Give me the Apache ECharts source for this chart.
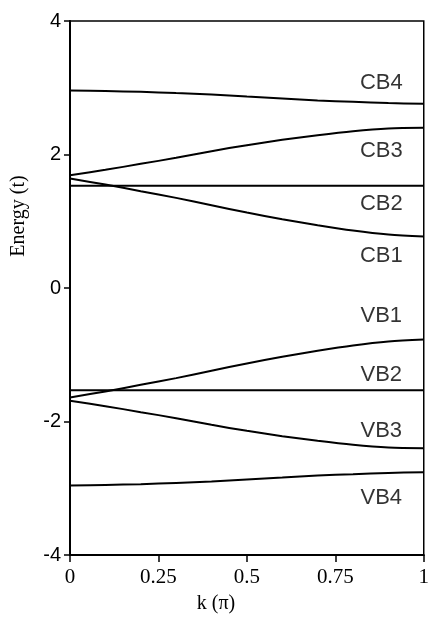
<!DOCTYPE html>
<html>
<head>
<meta charset="utf-8">
<script src="https://cdn.jsdelivr.net/npm/echarts@6/dist/echarts.min.js"></script>
<style>
  html, body { margin: 0; padding: 0; background: #fff; }
  #chart { width: 432px; height: 627px; }
</style>
</head>
<body>
<div id="chart"></div>
<script>
// wave vector k (units of pi)
const kValues = [0, 0.1, 0.2, 0.3, 0.4, 0.5, 0.6, 0.7, 0.8, 0.9, 1.0];

// conduction bands (energy in t)
const cb4 = [2.96, 2.95, 2.94, 2.92, 2.90, 2.87, 2.84, 2.81, 2.79, 2.77, 2.76];
const cb3 = [1.69, 1.77, 1.86, 1.95, 2.05, 2.14, 2.22, 2.29, 2.35, 2.39, 2.40];
const cb2 = [1.53, 1.53, 1.53, 1.53, 1.53, 1.53, 1.53, 1.53, 1.53, 1.53, 1.53];
const cb1 = [1.64, 1.55, 1.45, 1.35, 1.24, 1.13, 1.03, 0.94, 0.86, 0.80, 0.77];

// valence bands
const vb1 = [-1.64, -1.55, -1.45, -1.35, -1.24, -1.13, -1.03, -0.94, -0.86, -0.80, -0.77];
const vb2 = [-1.53, -1.53, -1.53, -1.53, -1.53, -1.53, -1.53, -1.53, -1.53, -1.53, -1.53];
const vb3 = [-1.69, -1.77, -1.86, -1.95, -2.05, -2.14, -2.22, -2.29, -2.35, -2.39, -2.40];
const vb4 = [-2.96, -2.95, -2.94, -2.92, -2.90, -2.87, -2.84, -2.81, -2.79, -2.77, -2.76];

const yTicks = [-4, -2, 0, 2, 4];
const xTicks = [0, 0.25, 0.5, 0.75, 1];

// band names and where their labels sit (k, E)
const bandNames = ['CB4', 'CB3', 'CB2', 'CB1', 'VB1', 'VB2', 'VB3', 'VB4'];
const labelK = [0.88, 0.88, 0.88, 0.88, 0.88, 0.88, 0.88, 0.88];
const labelE = [3.07, 2.05, 1.26, 0.48, -0.42, -1.30, -2.14, -3.15];

const bands = [cb4, cb3, cb2, cb1, vb1, vb2, vb3, vb4];

const chart = echarts.init(document.getElementById('chart'));

const lineSeries = bands.map(function (vals, i) {
    return {
        name: bandNames[i],
        type: 'line',
        smooth: 0.3,
        symbol: 'none',
        lineStyle: { color: '#000', width: 2 },
        data: kValues.map(function (k, j) { return [k, vals[j]]; }),
        z: 3
    };
});

const labelSeries = {
    type: 'scatter',
    symbolSize: 0,
    silent: true,
    data: bandNames.map(function (n, i) { return { value: [labelK[i], labelE[i]], name: n }; }),
    label: {
        show: true,
        position: 'inside',
        formatter: '{b}',
        color: '#000',
        fontFamily: 'Liberation Sans, Arial, sans-serif',
        fontSize: 22
    }
};

const option = {
    animation: false,
    backgroundColor: '#fff',
    grid: {
        left: 70, right: 4, top: 21, bottom: 72,
        show: true,
        borderColor: '#000',
        borderWidth: 1.5
    },
    xAxis: {
        type: 'value',
        min: 0, max: 1, interval: 0.25,
        splitLine: { show: false },
        axisLine: { onZero: false, lineStyle: { color: '#000', width: 2 } },
        axisTick: { show: true, length: 7, lineStyle: { color: '#000', width: 1.5 } },
        axisLabel: {
            color: '#000',
            fontFamily: 'Liberation Serif, Times New Roman, serif',
            fontSize: 21,
            margin: 12,
            formatter: function (v) { return xTicks.indexOf(v) >= 0 ? String(v) : ''; }
        }
    },
    yAxis: {
        type: 'value',
        min: -4, max: 4, interval: 2,
        splitLine: { show: false },
        axisLine: { show: true, onZero: false, lineStyle: { color: '#000', width: 2 } },
        axisTick: { show: true, length: 6, lineStyle: { color: '#000', width: 1.5 } },
        axisLabel: {
            color: '#000',
            fontFamily: 'Liberation Sans, Arial, sans-serif',
            fontSize: 20,
            margin: 9,
            formatter: function (v) { return yTicks.indexOf(v) >= 0 ? String(v) : ''; }
        }
    },
    graphic: [
        {
            type: 'text',
            left: 'center',
            top: 594,
            style: {
                text: 'k (π)',
                fill: '#000',
                font: '20px "Liberation Serif", "Times New Roman", serif'
            },
            x: 32
        },
        {
            type: 'text',
            x: 19,
            y: 216,
            rotation: Math.PI / 2,
            style: {
                text: 'Energy (t)',
                fill: '#000',
                font: '20px "Liberation Serif", "Times New Roman", serif',
                align: 'center',
                verticalAlign: 'middle'
            }
        }
    ],
    series: lineSeries.concat([labelSeries])
};

chart.setOption(option);
</script>
</body>
</html>
